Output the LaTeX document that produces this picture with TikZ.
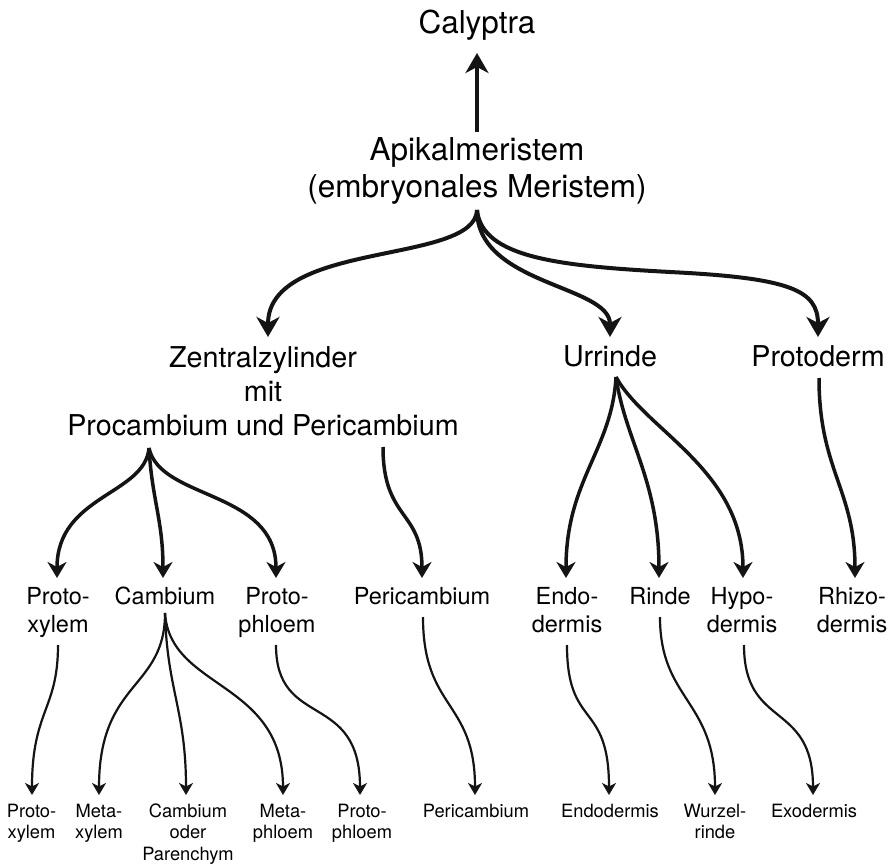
\documentclass[tikz,border=0pt]{standalone}
\usepackage{fontspec}
\setmainfont{TeX Gyre Heros}
\usetikzlibrary{arrows.meta}
\begin{document}
\begin{tikzpicture}[x=1pt,y=-1pt,
  lone/.style={font=\fontsize{31.5}{37}\selectfont, align=center, inner sep=0pt, anchor=base},
  ltwo/.style={font=\fontsize{28.7}{34}\selectfont, align=center, inner sep=0pt, anchor=base},
  lthree/.style={font=\fontsize{23.5}{28}\selectfont, align=center, inner sep=0pt, anchor=base},
  lfour/.style={font=\fontsize{18.3}{21.5}\selectfont, align=center, inner sep=0pt, anchor=base},
  bigarr/.style={draw=black!92, line width=4pt, -{Stealth[length=20pt,width=23pt,inset=6pt]}},
  midarr/.style={draw=black!92, line width=3.5pt, -{Stealth[length=16pt,width=19pt,inset=5pt]}},
  smallarr/.style={draw=black!92, line width=2.2pt, -{Stealth[length=12pt,width=14pt,inset=3.5pt]}}]
\useasboundingbox[fill=white] (0,0) rectangle (895,864);
% level 1 (multi-line nodes are placed at the baseline of their last line)
\node[lone] (caly) at (477,34) {Calyptra};
\node[lone] (apik) at (477,197) {Apikalmeristem\\(embryonales Meristem)};
% level 2
\node[ltwo] (zz) at (263,435) {Zentralzylinder\\mit\\Procambium und Pericambium};
\node[ltwo] (urr) at (610,366) {Urrinde};
\node[ltwo] (prd) at (818,366) {Protoderm};
% level 3
\node[lthree] (pxy) at (58,632) {Proto-\\xylem};
\node[lthree] (cam) at (165,604) {Cambium};
\node[lthree] (pph) at (277,632) {Proto-\\phloem};
\node[lthree] (per) at (422,604) {Pericambium};
\node[lthree] (endo) at (567,632) {Endo-\\dermis};
\node[lthree] (rin) at (660,604) {Rinde};
\node[lthree] (hypo) at (742,632) {Hypo-\\dermis};
\node[lthree] (rhi) at (852,632) {Rhizo-\\dermis};
% level 4
\node[lfour] (bpxy) at (31.5,838.5) {Proto-\\xylem};
\node[lfour] (bmxy) at (99,838.5) {Meta-\\xylem};
\node[lfour] (bcam) at (188,860) {Cambium\\oder\\Parenchym};
\node[lfour] (bmph) at (283,838.5) {Meta-\\phloem};
\node[lfour] (bpph) at (362,838.5) {Proto-\\phloem};
\node[lfour] (bper) at (476,817) {Pericambium};
\node[lfour] (bendo) at (610,817) {Endodermis};
\node[lfour] (bwur) at (715,838.5) {Wurzel-\\rinde};
\node[lfour] (bexo) at (814,817) {Exodermis};
% connector ends
\coordinate (apik-top) at (477,132);
\coordinate (caly-in) at (477,53);
\coordinate (apik-out) at (477,210);
\coordinate (zz-in) at (268,337);
\coordinate (urr-in) at (610,337);
\coordinate (prd-in) at (818,337);
\coordinate (zz-outA) at (149,448);
\coordinate (zz-outB) at (383,447);
\coordinate (urr-out) at (616,377);
\coordinate (prd-out) at (819,378);
\coordinate (pxy-in) at (57,578);
\coordinate (cam-in) at (163,578);
\coordinate (pph-in) at (276,578);
\coordinate (per-in) at (422,578);
\coordinate (endo-in) at (566,578);
\coordinate (rin-in) at (659,578);
\coordinate (hypo-in) at (743,578);
\coordinate (rhi-in) at (855,578);
\coordinate (pxy-out) at (58,645);
\coordinate (cam-out) at (165,613);
\coordinate (pph-out) at (276,645);
\coordinate (per-out) at (423,617);
\coordinate (endo-out) at (567,645);
\coordinate (rin-out) at (660,617);
\coordinate (hypo-out) at (744,645);
\coordinate (bpxy-in) at (32,795);
\coordinate (bmxy-in) at (99,795);
\coordinate (bcam-in) at (186,795);
\coordinate (bmph-in) at (283,795);
\coordinate (bpph-in) at (360,795);
\coordinate (bper-in) at (475,795);
\coordinate (bendo-in) at (609,795);
\coordinate (bwur-in) at (715,795);
\coordinate (bexo-in) at (813,795);
% top connectors
\draw[bigarr] (apik-top) -- (caly-in);
\draw[bigarr] (apik-out) .. controls (475,265) and (268,240) .. (zz-in);
\draw[bigarr] (apik-out) .. controls (477,285) and (610,285) .. (urr-in);
\draw[bigarr] (apik-out) .. controls (482,258) and (560,266) .. (670,272)
                          .. controls (790,278) and (818,290) .. (prd-in);
% level 2 -> 3
\draw[midarr] (zz-outA) .. controls (145,495) and (57,495) .. (pxy-in);
\draw[midarr] (zz-outA) .. controls (152,500) and (163,520) .. (cam-in);
\draw[midarr] (zz-outA) .. controls (160,500) and (276,490) .. (pph-in);
\draw[midarr] (zz-outB) .. controls (383,520) and (422,510) .. (per-in);
\draw[midarr] (urr-out) .. controls (612,450) and (566,480) .. (endo-in);
\draw[midarr] (urr-out) .. controls (625,440) and (659,480) .. (rin-in);
\draw[midarr] (urr-out) .. controls (645,430) and (743,470) .. (hypo-in);
\draw[midarr] (prd-out) .. controls (819,470) and (855,490) .. (rhi-in);
% level 3 -> 4
\draw[smallarr] (pxy-out) .. controls (58,710) and (32,710) .. (bpxy-in);
\draw[smallarr] (cam-out) .. controls (165,690) and (99,680) .. (bmxy-in);
\draw[smallarr] (cam-out) .. controls (167,690) and (186,710) .. (bcam-in);
\draw[smallarr] (cam-out) .. controls (170,690) and (283,680) .. (bmph-in);
\draw[smallarr] (pph-out) .. controls (276,730) and (360,690) .. (bpph-in);
\draw[smallarr] (per-out) .. controls (423,710) and (475,700) .. (bper-in);
\draw[smallarr] (endo-out) .. controls (567,730) and (609,700) .. (bendo-in);
\draw[smallarr] (rin-out) .. controls (660,700) and (715,700) .. (bwur-in);
\draw[smallarr] (hypo-out) .. controls (744,730) and (813,700) .. (bexo-in);
\end{tikzpicture}
\end{document}
